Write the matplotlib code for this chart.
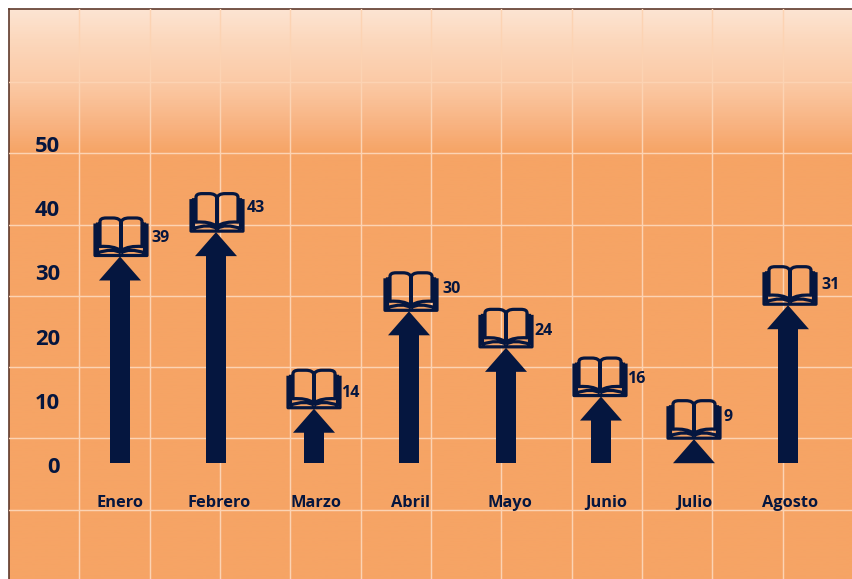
import numpy as np
import matplotlib
matplotlib.use("Agg")
import matplotlib.pyplot as plt
from matplotlib.path import Path
from matplotlib.patches import PathPatch
from matplotlib.transforms import Affine2D
from matplotlib.colors import LinearSegmentedColormap

months = ["Enero", "Febrero", "Marzo", "Abril", "Mayo", "Junio", "Julio", "Agosto"]
values = [39, 43, 14, 30, 24, 16, 9, 31]
y_ticks = [0, 10, 20, 30, 40, 50]

# layout, in pixels of the 853x579 picture
arrow_x = [120, 216, 314, 409, 506, 601, 694, 788]
book_x = [121, 217, 314, 411, 506, 600, 694, 790]
label_x = [120, 219, 316, 411, 510, 606, 694, 790]
value_dx = [31, 31, 27, 33, 28, 26, 30, 33]
value_dy = [18, 24, 16, 22, 17, 18, 22, 20]

INK = "#05163f"
W, H = 853, 579
L, T = 9, 9
DPI = 100
fig = plt.figure(figsize=(W / DPI, H / DPI), dpi=DPI, facecolor="white")
plt.rcParams["font.family"] = ["Open Sans", "DejaVu Sans"]
rect = [L / W, 0, (W - L) / W, (H - T) / H]

# background: gradient + grid
bg = fig.add_axes(rect, zorder=0)
stops = [(0.0, "#fde4d2"), (0.05, "#fcd8bd"), (0.125, "#fbcaa6"), (0.16, "#fac096"), (0.21, "#f8b07c"), (0.25, "#f6a465"), (1.0, "#f6a465")]
cmap = LinearSegmentedColormap.from_list("bg", stops)
bg.imshow(np.linspace(0, 1, 600)[:, None], cmap=cmap, aspect="auto", extent=(0, 12, 7.975, -0.025), zorder=0)
bg.set_xlim(0, 12)
bg.set_ylim(7.975, -0.025)
bg.set_xticks(range(1, 12))
bg.set_yticks(range(1, 8))
bg.grid(True, color="#fcd3b3", lw=1.05)
bg.set_axisbelow(False)
bg.tick_params(length=0, labelleft=False, labelbottom=False)
for s in ("right", "bottom"):
    bg.spines[s].set_visible(False)
for s in ("left", "top"):
    bg.spines[s].set_color("#5f3a2c")
    bg.spines[s].set_linewidth(1.2)

# tick labels: their own value scale
tick_ax = fig.add_axes(rect, zorder=1, facecolor="none")
tick_ax.set_xlim(L, W)
tick_ax.set_ylim((465 - H) / 6.42, (465 - T) / 6.42)
tick_ax.set_yticks(y_ticks)
tick_ax.set_xticks([])
tick_ax.tick_params(axis="y", length=0, direction="in", pad=-36.7, labelsize=15.8, labelcolor=INK)
for t in tick_ax.get_yticklabels():
    t.set_fontweight("bold")
for s in tick_ax.spines.values():
    s.set_visible(False)

# marks
ax = fig.add_axes(rect, zorder=2, facecolor="none")
ax.set_xlim(L, W)
ax.set_ylim((494 - H) / 6.09, (494 - T) / 6.09)
ax.axis("off")
base = (494 - 463) / 6.09
head_h = 24 / 6.09
shaft, head = 10, 21


def book_path():
    verts, codes = [], []

    def add(pts, c):
        verts.extend(pts)
        codes.extend(c)

    M, LN, C = Path.MOVETO, Path.LINETO, Path.CURVE3
    for s in (-1, 1):
        # page outline
        add([(0, 6), (0, 34), (s * 1, 38.5), (s * 8, 38.5), (s * 15, 38.5), (s * 21, 38.5), (s * 21, 35),
             (s * 21, 10), (s * 8, 11), (0, 6)],
            [M, LN, C, C, LN, C, C, LN, C, C])
        # page stack
        add([(s * 24, 3.5), (s * 8, 9), (0, 3.5)], [M, C, C])
        # side pages
        add([(s * 23.5, 34), (s * 23.5, 3)], [M, LN])
        # cover
        add([(s * 26, 33), (s * 26, 1), (0, 1)], [M, LN, LN])
    return Path(verts, codes)


BOOK = book_path()
for i, (m, v) in enumerate(zip(months, values)):
    x = arrow_x[i]
    neck = v - head_h
    pts = [(x - head, neck), (x, v), (x + head, neck)]
    if neck > base:
        pts = [(x - shaft, base), (x - shaft, neck)] + pts + [(x + shaft, neck), (x + shaft, base)]
    ax.fill(*zip(*pts), color=INK, lw=0, zorder=3)

    _, py = ax.transData.transform((0, v))
    px, _ = ax.transData.transform((book_x[i], 0))
    ax.add_patch(PathPatch(BOOK, fill=False, ec=INK, lw=2.3, joinstyle="round",
                           transform=Affine2D().translate(px, py), zorder=4))
    ax.annotate(str(v), (x, v), xytext=(value_dx[i] * 0.72, value_dy[i] * 0.72),
                textcoords="offset points", ha="left", va="center",
                fontsize=11.5, fontweight="bold", color=INK, zorder=5)
    ax.annotate(m, (label_x[i], 0), xycoords=("data", "axes fraction"),
                xytext=(0, (H - 503) * 0.72), textcoords="offset points",
                ha="center", va="center", fontsize=11.8, fontweight="bold", color=INK, zorder=5)

fig.savefig("out.png", dpi=DPI, facecolor="white")
